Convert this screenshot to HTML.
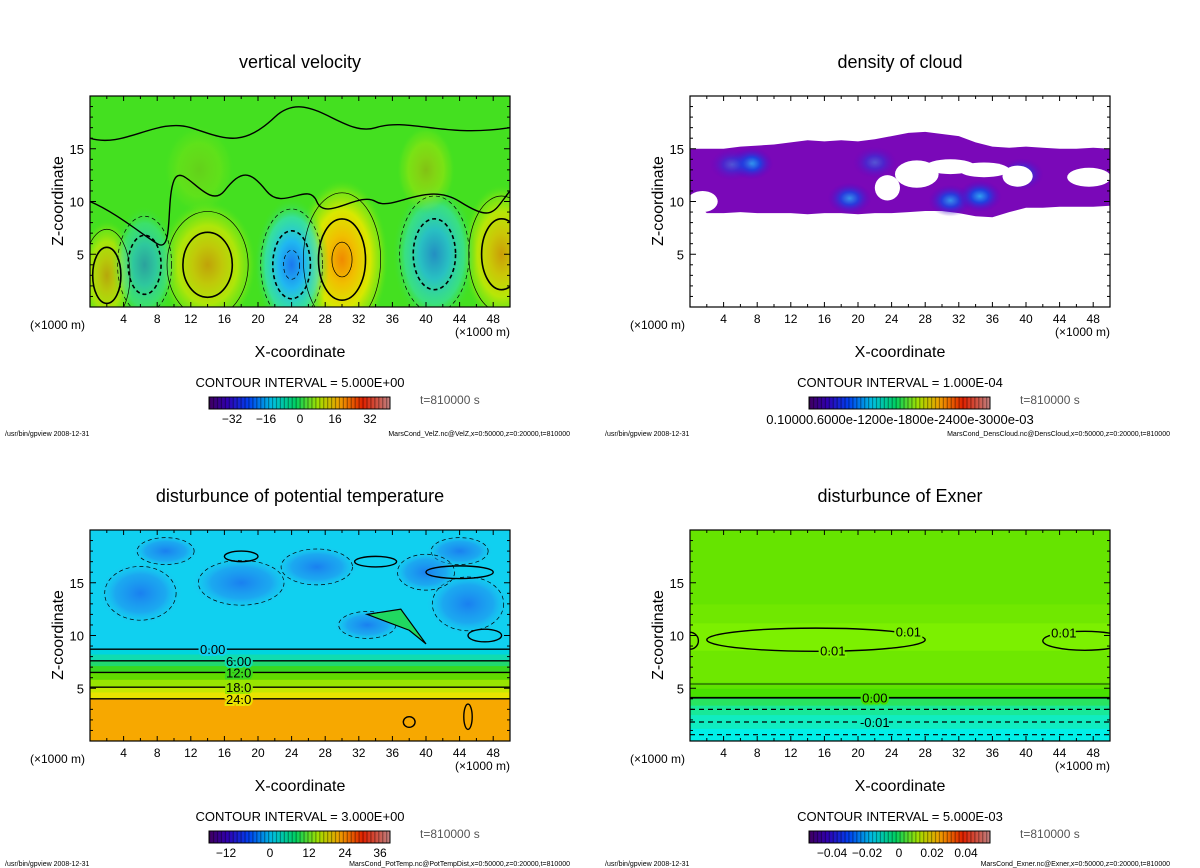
<!DOCTYPE html>
<html><head><meta charset="utf-8">
<style>
html,body{margin:0;padding:0;background:#fff;}
svg{display:block;font-family:"Liberation Sans",sans-serif;}
</style></head>
<body>
<svg id="root" width="1200" height="868" viewBox="0 0 1200 868" xmlns="http://www.w3.org/2000/svg">
<defs>
<radialGradient id="gPos"><stop offset="0" stop-color="#f08a00"/><stop offset="0.3" stop-color="#f0c000"/><stop offset="0.6" stop-color="#d8e800"/><stop offset="0.85" stop-color="#90e810" stop-opacity="0.6"/><stop offset="1" stop-color="#40e020" stop-opacity="0"/></radialGradient>
<radialGradient id="gNeg"><stop offset="0" stop-color="#1a78f0"/><stop offset="0.35" stop-color="#20b8f0"/><stop offset="0.7" stop-color="#30e0d0" stop-opacity="0.7"/><stop offset="1" stop-color="#40e020" stop-opacity="0"/></radialGradient>
<radialGradient id="gBlue"><stop offset="0" stop-color="#1a80f0"/><stop offset="0.6" stop-color="#2098f0" stop-opacity="0.7"/><stop offset="1" stop-color="#20c8f0" stop-opacity="0"/></radialGradient>
<radialGradient id="gCloud"><stop offset="0" stop-color="#30a0f0"/><stop offset="0.4" stop-color="#2040e0"/><stop offset="1" stop-color="#6000c0" stop-opacity="0"/></radialGradient>
<linearGradient id="gRain" x1="0" x2="1" y1="0" y2="0">
<stop offset="0" stop-color="#400060"/><stop offset="0.1" stop-color="#3000b0"/><stop offset="0.22" stop-color="#0040f0"/><stop offset="0.35" stop-color="#00c0e0"/><stop offset="0.48" stop-color="#00d060"/><stop offset="0.6" stop-color="#a0e000"/><stop offset="0.72" stop-color="#f0a000"/><stop offset="0.85" stop-color="#e02000"/><stop offset="1" stop-color="#c08080"/>
</linearGradient>
</defs>
</svg>
<script>
// ---------- data ----------
const panelTitles = ["vertical velocity","density of cloud","disturbunce of potential temperature","disturbunce of Exner"];
const contourIntervals = ["5.000E+00","1.000E-04","3.000E+00","5.000E-03"];
const footerFiles = ["MarsCond_VelZ.nc@VelZ,x=0:50000,z=0:20000,t=810000","MarsCond_DensCloud.nc@DensCloud,x=0:50000,z=0:20000,t=810000","MarsCond_PotTemp.nc@PotTempDist,x=0:50000,z=0:20000,t=810000","MarsCond_Exner.nc@Exner,x=0:50000,z=0:20000,t=810000"];
const xTicks = [4,8,12,16,20,24,28,32,36,40,44,48];
const zTicks = [5,10,15];
const wBlobX = [2, 14, 30, 49, 6.5, 24, 41, 40, 13];
const wBlobZ = [3, 4, 4.5, 5, 4, 4, 5, 13, 13];
const wBlobA = [0.55, 0.6, 1.0, 0.65, -0.5, -0.85, -0.65, 0.3, 0.15];
const wBlobW = [2.4, 4.2, 4.0, 3.4, 2.8, 3.2, 3.6, 2.5, 3];
const wBlobH = [3.8, 4.4, 5.5, 4.8, 4.0, 4.6, 4.8, 3, 3];
const cloudX = [0,2,4,6,8,10,12,14,16,18,20,22,24,26,28,30,32,34,36,38,40,42,44,46,48,50];
const cloudTop = [15,15,15,15.2,15.3,15.4,15.6,15.8,15.7,15.8,15.7,15.9,16.2,16.5,16.6,16.4,16.2,15.6,15.2,15.1,15.2,15.1,15.0,15.0,15.1,15.0];
const cloudBot = [10.3,8.9,8.9,9.0,8.9,8.9,8.9,8.8,8.9,8.9,8.8,8.9,8.9,9.0,9.1,9.1,8.9,8.6,8.5,9.0,9.4,9.4,9.5,9.5,9.5,9.6];
const cloudHoleX = [1.5, 23.5, 27, 31, 35, 39, 47.5];
const cloudHoleZ = [10, 11.3, 12.6, 13.3, 13.0, 12.4, 12.3];
const cloudHoleW = [1.8, 1.5, 2.6, 3, 3, 1.8, 2.6];
const cloudHoleH = [1, 1.2, 1.3, 0.7, 0.7, 1.0, 0.9];
const cloudCoreX = [7.3, 19, 31, 34.5, 39.5, 22, 5];
const cloudCoreZ = [13.6, 10.3, 10.1, 10.5, 12.6, 13.7, 13.5];
const cloudCoreA = [1, 0.9, 0.9, 1, 0.7, 0.5, 0.5];
const ptBandZ = [0, 4.0, 4.6, 5.1, 5.8, 6.5, 7.1, 7.6, 8.2, 8.7];
const ptBandC = ["#f7a800","#e8e400","#c8e800","#98e400","#60dc00","#38d820","#20d870","#10dcb0","#00d4e0","#10d0f0"];
const ptContourZ = [4.0, 5.1, 6.5, 7.6, 8.7];
const ptContourLabel = ["24.0","18.0","12.0","6.00","0.00"];
const ptBlueX = [6, 18, 27, 45, 44, 9, 33, 40];
const ptBlueZ = [14, 15, 16.5, 13, 18, 18, 11, 16];
const ptBlueW = [5, 6, 5, 5, 4, 4, 4, 4];
const ptBlueH = [3, 2.5, 2, 3, 1.5, 1.5, 1.5, 2];
const exBandZ = [0, 1.2, 2.5, 3.4, 4.2, 5.0, 5.6, 8.6, 11.2, 13];
const exBandC = ["#00f0e8","#10ecc0","#18e898","#28e460","#48e000","#5ee400","#6ee800","#7cf000","#70e800","#66e400"];
const exContourZ = [4.1, 3.0, 1.8, 0.6, 5.4];
const exContourDash = [0, 1, 1, 1, 0];
const cbarLabels = [["-32","-16","0","16","32"],[],["-12","0","12","24","36"],["-0.04","-0.02","0","0.02","0.04"]];
const cbarLabelX = [[232,266,300,335,370],[],[226,270,309,345,380],[232,267,299,332,366]];

// ---------- drawing ----------
const NS = "http://www.w3.org/2000/svg";
const root = document.getElementById('root');
function mk(tag, attrs, parent){const e=document.createElementNS(NS,tag);for(const k in attrs)e.setAttribute(k,attrs[k]);(parent||root).appendChild(e);return e;}
const FW=420, FH=211;
function panelOrigin(i){return {ox:(i%2)*600, oy:Math.floor(i/2)*434};}
function sx(p,x){return p.ox+90+x*FW/50;}
function sz(p,z){return p.oy+96+FH-z*FH/20;}

for(let i=0;i<4;i++){
  const p=panelOrigin(i);
  const g=mk('g',{});
  
  
  mk('clipPath',{id:'clip'+i},g).appendChild((()=>{const r=document.createElementNS(NS,'rect');r.setAttribute('x',p.ox+90);r.setAttribute('y',p.oy+96);r.setAttribute('width',FW);r.setAttribute('height',FH);return r;})());
  const field=mk('g',{'clip-path':'url(#clip'+i+')'},g);
  
  

  if(i===0){
    mk('rect',{x:p.ox+90,y:p.oy+96,width:FW,height:FH,fill:'#44e020'},field);
    for(let k=0;k<wBlobX.length;k++){
      const a=wBlobA[k];
      const e=mk('ellipse',{cx:sx(p,wBlobX[k]),cy:sz(p,wBlobZ[k]),rx:wBlobW[k]*FW/50*1.4,ry:wBlobH[k]*FH/20*1.4,fill:a>0?'url(#gPos)':'url(#gNeg)',opacity:Math.min(1,Math.abs(a)*1.2)},field);
      
      
    }
    for(let k=0;k<wBlobX.length;k++){
      const a=wBlobA[k]; if(Math.abs(a)<0.4) continue;
      const lv=[1.15,0.7,0.3];
      lv.forEach((f,j)=>{ if(j===2 && Math.abs(a)<0.7) return;
        const e=mk('ellipse',{cx:sx(p,wBlobX[k]),cy:sz(p,wBlobZ[k]),rx:wBlobW[k]*FW/50*f,ry:wBlobH[k]*FH/20*f,fill:'none',stroke:'#000','stroke-width':(j===1?1.6:0.7),'stroke-dasharray':a<0?'4 3':'none'},field);
        
        
      });
    }
    const zeroPaths=["M0,10 C3,9 6,7 8,6 S9,10 10,12 S14,9 16,11 S19,13 21,11 S26,12 27,10 S32,11 34,10 S40,12 44,10 S48,9 50,11","M0,16 C4,15 8,18 12,17 S18,15 22,18 S30,16 34,17 S42,16 50,17"];
    zeroPaths.forEach(d=>{
      const pts=d.replace(/([\d.]+),([\d.]+)/g,(m,x,z)=>sx(p,+x).toFixed(1)+','+sz(p,+z).toFixed(1));
      const e=mk('path',{d:pts,fill:'none',stroke:'#000','stroke-width':1.4},field);
      
      
    });
  } else if(i===1){
    mk('rect',{x:p.ox+90,y:p.oy+96,width:FW,height:FH,fill:'#fff'},field);
    let d='M'+cloudX.map((x,k)=>sx(p,x).toFixed(1)+','+sz(p,cloudTop[k]).toFixed(1)).join(' L');
    for(let k=cloudX.length-1;k>=0;k--) d+=' L'+sx(p,cloudX[k]).toFixed(1)+','+sz(p,cloudBot[k]).toFixed(1);
    const c=mk('path',{d:d+'Z',fill:'#7a08b8'},field);
    
    
    for(let k=0;k<cloudCoreX.length;k++){
      const e=mk('ellipse',{cx:sx(p,cloudCoreX[k]),cy:sz(p,cloudCoreZ[k]),rx:22,ry:16,fill:'url(#gCloud)',opacity:cloudCoreA[k]},field);
      
      
    }
    for(let k=0;k<cloudHoleX.length;k++){
      const e=mk('ellipse',{cx:sx(p,cloudHoleX[k]),cy:sz(p,cloudHoleZ[k]),rx:cloudHoleW[k]*FW/50,ry:cloudHoleH[k]*FH/20,fill:'#fff'},field);
      
      
    }
  } else if(i===2){
    mk('rect',{x:p.ox+90,y:p.oy+96,width:FW,height:FH,fill:ptBandC[ptBandC.length-1]},field);
    for(let k=0;k<ptBlueX.length;k++){
      const e=mk('ellipse',{cx:sx(p,ptBlueX[k]),cy:sz(p,ptBlueZ[k]),rx:ptBlueW[k]*FW/50,ry:ptBlueH[k]*FH/20,fill:'url(#gBlue)'},field);
      
      
      const c=mk('ellipse',{cx:sx(p,ptBlueX[k]),cy:sz(p,ptBlueZ[k]),rx:ptBlueW[k]*FW/50*0.85,ry:ptBlueH[k]*FH/20*0.85,fill:'none',stroke:'#000','stroke-width':0.7,'stroke-dasharray':'4 3'},field);
      
      
    }
    for(let k=ptBandZ.length-2;k>=0;k--){
      const top=ptBandZ[k+1];
      const r=mk('rect',{x:p.ox+90,y:sz(p,top),width:FW,height:sz(p,ptBandZ[k])-sz(p,top)+0.5,fill:ptBandC[k]},field);
      
      
    }
    ptContourZ.forEach((z,k)=>{
      const l=mk('line',{x1:p.ox+90,x2:p.ox+510,y1:sz(p,z),y2:sz(p,z),stroke:'#000','stroke-width':1.4},field);
      
      
      const lx=k===4?p.ox+200:p.ox+226;
      const t=mk('text',{x:lx,y:sz(p,z)+5,'font-size':13,fill:'#000',stroke:ptBandC[Math.min(k*2+1,9)],'stroke-width':4,'paint-order':'stroke'},field);
      t.textContent=ptContourLabel[k];
      
      
    });
    const loops=[[18,17.5,2,0.5],[44,16,4,0.6],[47,10,2,0.6],[34,17,2.5,0.5],[38,1.8,0.7,0.5],[45,2.3,0.5,1.2]];
    loops.forEach(L=>{
      const e=mk('ellipse',{cx:sx(p,L[0]),cy:sz(p,L[1]),rx:L[2]*FW/50,ry:L[3]*FH/20,fill:'none',stroke:'#000','stroke-width':1.4},field);
      
      
    });
    const streak=mk('path',{d:'M'+sx(p,33)+','+sz(p,12)+' L'+sx(p,37)+','+sz(p,12.5)+' L'+sx(p,40)+','+sz(p,9.2)+' L'+sx(p,38)+','+sz(p,10.5)+'Z',fill:'#20d860',stroke:'#000','stroke-width':1.2},field);
    
    
  } else {
    for(let k=0;k<exBandZ.length;k++){
      const top=k+1<exBandZ.length?exBandZ[k+1]:20;
      const r=mk('rect',{x:p.ox+90,y:sz(p,top),width:FW,height:sz(p,exBandZ[k])-sz(p,top)+0.5,fill:exBandC[k]},field);
      
      
    }
    exContourZ.forEach((z,k)=>{
      const l=mk('line',{x1:p.ox+90,x2:p.ox+510,y1:sz(p,z),y2:sz(p,z),stroke:'#000','stroke-width':k===0?1.8:(k===4?0.8:1.2),'stroke-dasharray':exContourDash[k]?'5 4':'none'},field);
      
      
    });
    const loops=[[15,9.6,13,1.1],[47,9.5,5,0.9],[0,9.5,1,0.8]];
    loops.forEach(L=>{
      const e=mk('ellipse',{cx:sx(p,L[0]),cy:sz(p,L[1]),rx:L[2]*FW/50,ry:L[3]*FH/20,fill:'none',stroke:'#000','stroke-width':1.4},field);
      
      
    });
    [[sx(p,26),sz(p,10.4),'0.01','#7cf000'],[sx(p,17),sz(p,8.6),'0.01','#7cf000'],[sx(p,44.5),sz(p,10.3),'0.01','#7cf000'],[sx(p,22),sz(p,4.1),'0.00','#48e000'],[sx(p,22),sz(p,1.8),'-0.01','#10ecc0']].forEach(L=>{
      const t=mk('text',{x:L[0],y:L[1]+5,'font-size':13,fill:'#000','text-anchor':'middle',stroke:L[3],'stroke-width':4,'paint-order':'stroke'},field);
      t.textContent=L[2];
      
      
    });
  }

  const fr=mk('rect',{x:p.ox+90,y:p.oy+96,width:FW,height:FH,fill:'none',stroke:'#000','stroke-width':1.2},g);
  
  
  for(let x=2;x<50;x+=2){const L=x%4===0?5:3;
    mk('line',{x1:sx(p,x),x2:sx(p,x),y1:p.oy+307,y2:p.oy+307-L,stroke:'#000'},g);
    mk('line',{x1:sx(p,x),x2:sx(p,x),y1:p.oy+96,y2:p.oy+96+L,stroke:'#000'},g);}
  for(let z=1;z<20;z++){const L=z%5===0?6:3;
    mk('line',{x1:p.ox+90,x2:p.ox+90+L,y1:sz(p,z),y2:sz(p,z),stroke:'#000'},g);
    mk('line',{x1:p.ox+510,x2:p.ox+510-L,y1:sz(p,z),y2:sz(p,z),stroke:'#000'},g);}
  xTicks.forEach(v=>{const t=mk('text',{x:sx(p,v),y:p.oy+323,'font-size':12,'text-anchor':'middle'},g);t.textContent=v;
    });
  zTicks.forEach(v=>{const t=mk('text',{x:p.ox+84,y:sz(p,v)+5,'font-size':13,'text-anchor':'end'},g);t.textContent=v;
    });
  const tt=mk('text',{x:p.ox+300,y:p.oy+68,'font-size':18,'text-anchor':'middle'},g);tt.textContent=panelTitles[i];
  
  const yl=mk('text',{x:0,y:0,'font-size':16,'text-anchor':'middle',transform:'translate('+(p.ox+63)+','+(p.oy+201)+') rotate(-90)'},g);yl.textContent='Z-coordinate';
  
  const xl=mk('text',{x:p.ox+300,y:p.oy+357,'font-size':16,'text-anchor':'middle'},g);xl.textContent='X-coordinate';
  
  const u1=mk('text',{x:p.ox+30,y:p.oy+329,'font-size':12},g);u1.textContent='(×1000 m)';
  
  const u2=mk('text',{x:p.ox+455,y:p.oy+336,'font-size':12},g);u2.textContent='(×1000 m)';
  
  const ci=mk('text',{x:p.ox+300,y:p.oy+387,'font-size':13,'text-anchor':'middle'},g);ci.textContent='CONTOUR INTERVAL = '+contourIntervals[i];
  
  const cb=mk('g',{},g);
  
  mk('rect',{x:p.ox+209,y:p.oy+397,width:181,height:12,fill:'url(#gRain)'},cb);
  for(let s=0;s<46;s++){mk('rect',{x:p.ox+209+s*181/46,y:p.oy+397,width:1.2,height:12,fill:'#000',opacity:0.35},cb);}
  mk('rect',{x:p.ox+209,y:p.oy+397,width:181,height:12,fill:'none',stroke:'#000','stroke-width':1},cb);
  if(i===1){const t=mk('text',{x:p.ox+300,y:p.oy+424,'font-size':13,'text-anchor':'middle'},cb);t.textContent='0.10000.6000e-1200e-1800e-2400e-3000e-03';
    }
  cbarLabels[i].forEach((s,k)=>{const t=mk('text',{x:p.ox+cbarLabelX[i][k],y:p.oy+423,'font-size':12,'text-anchor':'middle'},cb);t.textContent=s.replace('-','\u2212');
    });
  const tm=mk('text',{x:p.ox+420,y:p.oy+404,'font-size':12,fill:'#555'},g);tm.textContent='t=810000 s';
  
  const fy = i<2 ? 436 : 866;
  const f1=mk('text',{x:p.ox+5,y:fy,'font-size':7},g);f1.textContent='/usr/bin/gpview   2008-12-31';
  
  const f2=mk('text',{x:p.ox+570,y:fy,'font-size':7,'text-anchor':'end'},g);f2.textContent=footerFiles[i];
  
}
</script>
</body></html>
